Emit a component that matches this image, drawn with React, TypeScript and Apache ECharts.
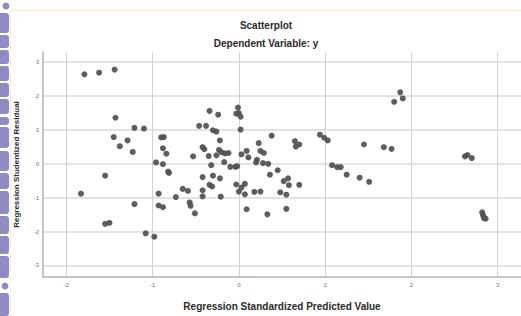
import React, { useEffect, useRef } from "react";
import * as echarts from "echarts";

const chartTitle = "Scatterplot";
const chartSubtitle = "Dependent Variable: y";
const xAxisTitle = "Regression Standardized Predicted Value";
const yAxisTitle = "Regression Studentized Residual";

// Regression standardized predicted values
const predicted: number[] = [
  -1.79, -1.62, -1.44, -1.43, -1.21, -1.10, -1.45, -1.29, -1.38, -1.23,
  -0.90, -0.87, -0.88, -0.84, -0.53, -0.46, -0.96, -0.88, -0.82, -0.81,
  -1.55, -1.83, -0.93, -0.73, -0.65, -0.59, -1.21, -0.93, -0.88, -0.57,
  -0.56, -0.51, -1.55, -1.50, -1.08, -0.98, -0.34, -0.24, -0.01, -0.03,
  0.00, 0.02, -0.38, -0.30, -0.26, 0.02, 0.38, 0.94, 0.99, 1.03,
  1.45, 0.65, 0.70, 0.66, -0.22, 0.23, -0.42, -0.40, -0.23, -0.20,
  -0.16, -0.12, -0.26, -0.35, 0.03, 0.09, 0.11, 0.25, 0.29, 0.21,
  0.20, 0.28, 0.34, -0.17, -0.32, -0.10, -0.04, -0.02, 0.45, 0.36,
  1.08, 1.14, 1.18, 1.25, 1.40, 1.51, -0.42, -0.30, -0.22, 0.52,
  0.57, 0.58, 0.70, -0.34, -0.31, -0.42, -0.03, 0.07, 0.03, 0.00,
  0.07, 0.18, 0.25, 0.48, 0.55, -0.42, -0.21, 0.09, 0.55, 0.33,
  1.87, 1.80, 1.90, 1.68, 1.77, 2.62, 2.65, 2.70, 2.82, 2.83,
  2.84, 2.86,
];

// Regression studentized residuals
const residuals: number[] = [
  2.64, 2.69, 2.78, 1.36, 1.06, 1.04, 0.79, 0.69, 0.52, 0.35,
  0.78, 0.79, 0.46, 0.30, 0.22, 1.12, 0.04, -0.01, -0.23, -0.27,
  -0.35, -0.88, -0.88, -0.98, -0.74, -0.80, -1.19, -1.23, -1.28, -1.14,
  -1.24, -1.46, -1.77, -1.74, -2.05, -2.15, 1.56, 1.45, 1.66, 1.48,
  1.50, 1.39, 1.12, 0.99, 0.95, 1.01, 0.83, 0.86, 0.77, 0.69,
  0.57, 0.67, 0.57, 0.51, 0.69, 0.61, 0.49, 0.43, 0.41, 0.34,
  0.31, 0.32, 0.25, 0.23, 0.28, 0.38, 0.19, 0.38, 0.32, 0.12,
  0.04, 0.02, 0.00, 0.05, -0.04, -0.09, -0.09, -0.07, -0.19, -0.32,
  -0.04, -0.10, -0.10, -0.32, -0.41, -0.53, -0.39, -0.35, -0.43, -0.51,
  -0.43, -0.63, -0.62, -0.62, -0.67, -0.78, -0.61, -0.59, -0.70, -0.82,
  -0.90, -0.83, -0.82, -0.84, -0.91, -0.96, -0.97, -1.34, -1.33, -1.49,
  2.11, 1.83, 1.93, 0.49, 0.44, 0.22, 0.26, 0.17, -1.43, -1.52,
  -1.60, -1.62,
];

// Decorative watermark fragment on the left edge: [top, height]
const watermarkBlocks: number[][] = [
  [13, 20], [35, 13], [50, 14], [66, 15], [83, 14], [99, 15], [117, 8],
  [127, 21], [151, 20], [173, 16], [191, 23], [216, 18], [236, 18],
  [256, 22], [293, 23],
];

const isInt = (v: number) => Math.abs(v - Math.round(v)) < 1e-6;

export default function App() {
  const ref = useRef<HTMLDivElement>(null);
  useEffect(() => {
    document.body.style.margin = "0";
    const chart = echarts.init(ref.current!, undefined, { renderer: "svg" });
    const points = predicted.map((x, i) => [x, residuals[i]]);
    const wmColor = "#8f8cc4";
    const wm: any[] = watermarkBlocks.map(([t, h]) => ({
      type: "rect",
      shape: { x: -3, y: t, width: 12, height: h, r: 3 },
      style: { fill: wmColor },
      z: 0,
    }));
    wm.push({
      type: "circle",
      shape: { cx: 6, cy: 6, r: 3.5 },
      style: { fill: wmColor },
    });
    wm.push({
      type: "circle",
      shape: { cx: 5, cy: 286, r: 3.5 },
      style: { fill: wmColor },
    });
    const labelStyle = {
      fontFamily: "Liberation Sans",
      fontSize: 10,
      fontWeight: "bold",
      color: "#2a2a2a",
    };
    chart.setOption({
      animation: false,
      backgroundColor: "#ffffff",
      grid: { left: 43, right: 0, top: 52, bottom: 35, containLabel: false },
      xAxis: {
        type: "value",
        min: -2.27,
        max: 3.27,
        minInterval: 1,
        maxInterval: 1,
        name: xAxisTitle,
        nameLocation: "middle",
        nameGap: 24,
        nameTextStyle: labelStyle,
        axisLine: { show: true, onZero: false, lineStyle: { color: "#b4b4b4", width: 1.5 } },
        axisTick: { show: false },
        axisLabel: {
          fontSize: 6,
          color: "#707070",
          margin: 5,
          showMinLabel: false,
          showMaxLabel: false,
          formatter: (v: number) => (isInt(v) ? String(Math.round(v)) : ""),
        },
        splitLine: { show: true, showMinLine: false, showMaxLine: false, lineStyle: { color: "#d2d2d2", width: 1 } },
      },
      yAxis: {
        type: "value",
        min: -3.34,
        max: 3.3,
        minInterval: 1,
        maxInterval: 1,
        name: yAxisTitle,
        nameLocation: "middle",
        nameGap: 23,
        nameTextStyle: { ...labelStyle, fontSize: 8 },
        axisLine: { show: true, onZero: false, lineStyle: { color: "#b4b4b4", width: 1.5 } },
        axisTick: { show: false },
        axisLabel: {
          fontSize: 6,
          color: "#707070",
          margin: 4,
          showMinLabel: false,
          showMaxLabel: false,
          formatter: (v: number) => (isInt(v) ? String(Math.round(v)) : ""),
        },
        splitLine: { show: true, showMinLine: false, showMaxLine: false, lineStyle: { color: "#dadada", width: 1.5 } },
      },
      graphic: [
        {
          type: "line",
          shape: { x1: 10, y1: 10.5, x2: 521, y2: 10.5 },
          style: { stroke: "#f9efcf", lineWidth: 1.5 },
        },
        {
          type: "line",
          shape: { x1: 10.5, y1: 10, x2: 10.5, y2: 316 },
          style: { stroke: "#f9efcf", lineWidth: 1 },
        },
        ...wm,
        {
          type: "text",
          x: 266,
          y: 25,
          style: {
            text: chartTitle,
            textAlign: "center",
            textVerticalAlign: "middle",
            fontFamily: "Liberation Sans",
            fontSize: 10,
            fontWeight: "bold",
            fill: "#2a2a2a",
          },
        },
        {
          type: "text",
          x: 266,
          y: 43,
          style: {
            text: chartSubtitle,
            textAlign: "center",
            textVerticalAlign: "middle",
            fontFamily: "Liberation Sans",
            fontSize: 10,
            fontWeight: "bold",
            fill: "#2a2a2a",
          },
        },
      ],
      series: [
        {
          type: "scatter",
          data: points,
          symbolSize: 6,
          itemStyle: { color: "#505050", opacity: 0.92 },
        },
      ],
    });
    return () => chart.dispose();
  }, []);
  return (
    <div
      ref={ref}
      style={{ position: "fixed", left: 0, top: 0, width: 521, height: 316 }}
    />
  );
}
